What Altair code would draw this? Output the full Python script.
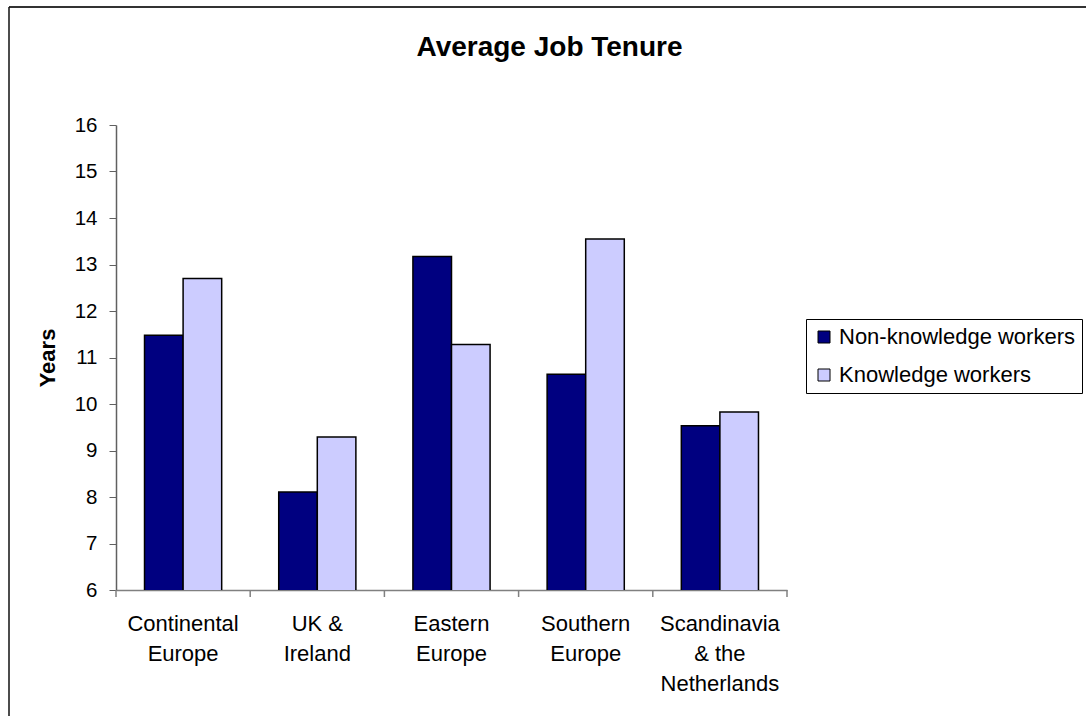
import altair as alt
import pandas as pd

categories = ["Continental\nEurope", "UK &\nIreland", "Eastern\nEurope",
              "Southern\nEurope", "Scandinavia\n& the\nNetherlands"]
series = ["Non-knowledge workers", "Knowledge workers"]
non_knowledge = [11.48, 8.11, 13.17, 10.64, 9.53]
knowledge = [12.70, 9.29, 11.28, 13.55, 9.83]
colors = ["#000080", "#CCCCFF"]

rows = []
for i, c in enumerate(categories):
    rows.append({"region": c, "group": series[0], "years": non_knowledge[i]})
    rows.append({"region": c, "group": series[1], "years": knowledge[i]})
df = pd.DataFrame(rows)

boundaries = pd.DataFrame({"b": list(range(len(categories) + 1))})

FONT = "Liberation Sans"
W, H = 671, 465
PL, PT = 116, 125

bars = alt.Chart(df).mark_bar(stroke="black", strokeWidth=1.5, clip=True).encode(
    x=alt.X("region:N", sort=categories, title=None,
            scale=alt.Scale(paddingInner=0.425, paddingOuter=0.2125),
            axis=alt.Axis(labelExpr="split(datum.label, '\\n')", labelAngle=0,
                          labelFont=FONT, labelFontSize=22, labelLineHeight=30,
                          labelColor="black", ticks=False, tickSize=0,
                          labelPadding=23, domainColor="#808080", domainWidth=1.5)),
    xOffset=alt.XOffset("group:N", sort=series,
                        scale=alt.Scale(domain=series, paddingInner=0, paddingOuter=0)),
    y=alt.Y("years:Q", title="Years",
            scale=alt.Scale(domain=[6, 16], nice=False, zero=False),
            axis=alt.Axis(values=list(range(6, 17)), grid=False, tickSize=7,
                          tickColor="#606060", domainColor="#606060", domainWidth=1.5,
                          labelFont=FONT, labelFontSize=20.5, labelColor="black",
                          labelPadding=12, titleFont=FONT, titleFontSize=22,
                          titleFontWeight="bold", titleColor="black", titlePadding=15)),
    color=alt.Color("group:N", sort=series,
                    scale=alt.Scale(domain=series, range=colors),
                    legend=alt.Legend(title=None, orient="none", legendX=690, legendY=194,
                                      symbolType="square", symbolSize=144,
                                      symbolStrokeColor="black", symbolStrokeWidth=1,
                                      labelFont=FONT, labelFontSize=22, labelColor="black",
                                      labelLimit=400, labelOffset=4, rowPadding=16,
                                      padding=7, strokeColor="black", fillColor="white")),
)

ticks = alt.Chart(boundaries).mark_rule(color="#808080", strokeWidth=1.5).encode(
    x=alt.X("b:Q", scale=alt.Scale(domain=[0, len(categories)], nice=False), axis=None),
    y=alt.value(H),
    y2=alt.value(H + 7),
)

frame = alt.Chart(alt.Data(values=[{}]))
top_border = frame.mark_rule(color="#333333", strokeWidth=2).encode(
    x=alt.value(9 - PL), x2=alt.value(1086 - PL), y=alt.value(7 - PT))
left_border = frame.mark_rule(color="#111111", strokeWidth=1.5).encode(
    x=alt.value(9 - PL), y=alt.value(7 - PT), y2=alt.value(716 - PT))

chart = alt.layer(bars, ticks, top_border, left_border).resolve_scale(
    x="independent"
).properties(
    width=W, height=H,
    background="white",
    autosize=alt.AutoSizeParams(type="none"),
    padding={"left": PL, "top": PT, "right": 1086 - PL - W, "bottom": 716 - PT - H},
    title=alt.TitleParams("Average Job Tenure", font=FONT, fontSize=28, fontWeight="bold",
                          color="black", anchor="middle", frame="group", dx=98,
                          baseline="alphabetic", offset=-78),
).configure_view(strokeOpacity=0, strokeWidth=0)

chart.save("out.html", embed_options={"renderer": "svg", "actions": False})
